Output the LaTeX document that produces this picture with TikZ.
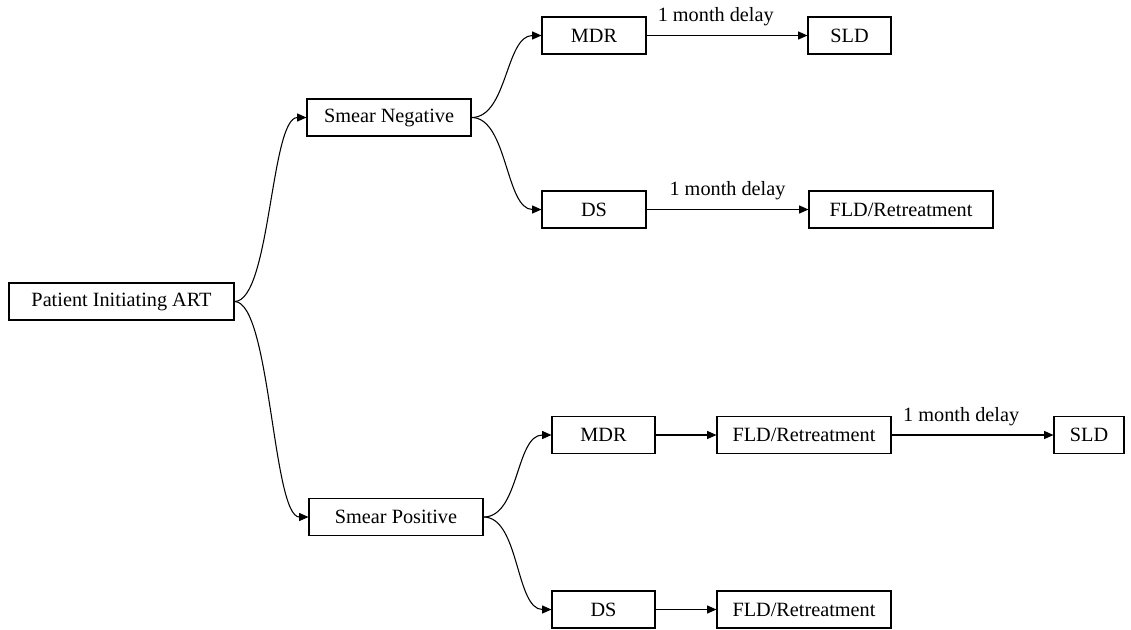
\documentclass[tikz,border=0pt]{standalone}
\usepackage{fontspec}
\setmainfont{Liberation Serif}
\usetikzlibrary{arrows.meta}

\tikzset{
  box/.style={draw, line width=0.8pt, minimum height=27.75pt, inner xsep=0pt,
    font=\fontsize{15.2}{17}\selectfont},
  link/.style={line width=0.8pt, -{Triangle[length=7pt,width=6pt]}},
  branch/.style={to path={.. controls +(36,0) and +(-36,0) .. (\tikztotarget)}},
  delay/.style={above=4.5pt, inner sep=2pt, font=\fontsize{15.2}{17}\selectfont}
}

\begin{document}
\begin{tikzpicture}[x=0.75pt,y=0.75pt,yscale=-1,xscale=1]
\useasboundingbox (0,0) rectangle (1131,629);

% Root
\node[box, minimum width=168.75pt] (pat) at (121.5,301.5) {Patient Initiating ART\hspace{12pt}};

% Smear negative branch
\node[box, minimum width=123pt] (sneg) at (389,117.5) {Smear Negative\hspace{7pt}};
\node[box, minimum width=78pt] (mdrneg) at (594,35.5) {MDR};
\node[box, minimum width=78pt] (dsneg) at (594,209.5) {DS};
\node[box, minimum width=62.25pt] (sldneg) at (849.5,35.5) {SLD};
\node[box, minimum width=138pt] (fldneg) at (901,209.5) {FLD/Retreatment};

% Smear positive branch
\node[box, minimum width=130.5pt] (spos) at (396,517) {Smear Positive\hspace{12pt}};
\node[box, minimum width=77.25pt] (mdrpos) at (603.5,435) {MDR};
\node[box, minimum width=77.25pt] (dspos) at (603.5,609.5) {DS};
\node[box, minimum width=130.5pt] (fldmdr) at (804,435) {FLD/Retreatment};
\node[box, minimum width=130.5pt] (fldds) at (804,609.5) {FLD/Retreatment};
\node[box, minimum width=52.5pt] (sldpos) at (1089,435) {SLD};

% Curved connectors
\draw[link] (pat.east) to[branch] (sneg.west);
\draw[link] (pat.east) to[branch] (spos.west);
\draw[link] (sneg.east) to[branch] (mdrneg.west);
\draw[link] (sneg.east) to[branch] (dsneg.west);
\draw[link] (spos.east) to[branch] (mdrpos.west);
\draw[link] (spos.east) to[branch] (dspos.west);

% Straight connectors
\draw[link] (mdrneg) -- node[delay, pos=0.43] {1 month delay} (sldneg);
\draw[link] (dsneg) -- node[delay] {1 month delay} (fldneg);
\draw[link] (mdrpos) -- (fldmdr);
\draw[link] (fldmdr) -- node[delay, pos=0.43] {1 month delay} (sldpos);
\draw[link] (dspos) -- (fldds);
\end{tikzpicture}
\end{document}
